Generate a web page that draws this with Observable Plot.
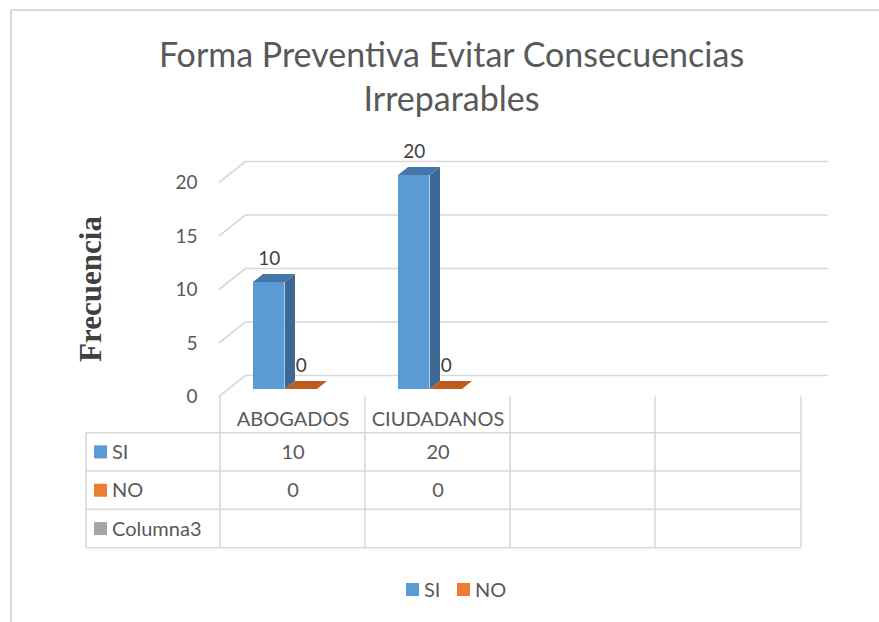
<!DOCTYPE html>
<html><head><meta charset="utf-8">
<script src="https://cdn.jsdelivr.net/npm/d3@7"></script>
<script src="https://cdn.jsdelivr.net/npm/@observablehq/plot@0.6"></script>
<style>
 body{margin:0;background:#fff;}
 #wrap{position:relative;width:879px;height:622px;overflow:hidden;}
</style></head><body>
<div id="wrap"></div>
<script>
// ---- data ----
const titleLines = ["Forma Preventiva Evitar Consecuencias", "Irreparables"];
const yLabel = "Frecuencia";
const categories = ["ABOGADOS", "CIUDADANOS"];
const emptyColumns = ["col3", "col4"];
const seriesNames = ["SI", "NO", "Columna3"];
const siValues = [10, 20];
const noValues = [0, 0];
const columna3Values = [null, null];
const yTicks = [0, 5, 10, 15, 20];
const legendSeries = ["SI", "NO"];
const colors = {SI: "#5B9BD5", NO: "#ED7D31", Columna3: "#A5A5A5"};
const shade = {SIside: "#3C6893", SItop: "#4476AC", NOtop: "#BD5C1D"};

const siData = categories.map((c, i) => ({cat: c, value: siValues[i]}));
const noData = categories.map((c, i) => ({cat: c, value: noValues[i]}));
const tableRows = [
  {name: "SI", values: siValues},
  {name: "NO", values: noValues},
  {name: "Columna3", values: columna3Values}
];

// ---- layout ----
const W = 879, H = 622;
const mL = 219, mR = 78, mT = 182.5, mB = 225.5;
const bw = (W - mL - mR) / 4;
const backDx = 27, backDy = -21.5;   // back wall offset
const barDy = -7.5;                  // bar plane offset
const depthX = 10, depthY = -8;      // bar depth
const siIn = [33, 65], noIn = [65, 97];
const rowH = 38.35, headerH = 36.2;
const font = "Lato, 'Open Sans', sans-serif";

const plot = Plot.plot({
  width: W, height: H,
  marginLeft: mL, marginRight: mR, marginTop: mT, marginBottom: mB,
  style: {fontFamily: font, fontSize: "19px", color: "#595959", background: "transparent", overflow: "visible"},
  x: {domain: [...categories, ...emptyColumns], padding: 0, axis: null},
  y: {domain: [0, 20], nice: false, ticks: yTicks, tickSize: 0, tickPadding: 22, label: null},
  marks: [
    Plot.ruleY(yTicks, {dx: backDx, dy: backDy, stroke: "#D9D9D9", strokeWidth: 1.6}),
    Plot.barY(siData, {x: "cat", y: "value", fill: colors.SI, insetLeft: siIn[0], insetRight: bw - siIn[1], dy: barDy}),
    Plot.text(siData, {x: "cat", y: "value", text: d => String(d.value), dy: barDy - 24, dx: (siIn[0] + siIn[1]) / 2 - bw / 2, fill: "#404040", fontSize: 19}),
    Plot.text(noData, {x: "cat", y: "value", text: d => String(d.value), dy: barDy - 24, dx: (noIn[0] + noIn[1]) / 2 - bw / 2, fill: "#404040", fontSize: 19}),
    Plot.text(categories, {x: d => d, y: () => 0, dy: 23, fill: "#595959", fontSize: 20}),
    Plot.text(siData, {x: "cat", y: () => 0, text: d => String(d.value), dy: headerH + rowH * 0.5, fill: "#595959", fontSize: 20}),
    Plot.text(noData, {x: "cat", y: () => 0, text: d => String(d.value), dy: headerH + rowH * 1.5, fill: "#595959", fontSize: 20})
  ]
});

const sx = plot.scale("x"), sy = plot.scale("y");
const svg = d3.select(plot);
const y0 = sy.apply(0);
const xStart = c => sx.apply(c);
const lineC = "#D9D9D9";

// back decorations (diagonal axis lines) below marks
const back = svg.insert("g", "g");
for (const v of yTicks) {
  back.append("line").attr("x1", mL).attr("y1", sy.apply(v)).attr("x2", mL + backDx).attr("y2", sy.apply(v) + backDy)
    .attr("stroke", lineC).attr("stroke-width", 1.6);
}

// 3D faces
const faces = svg.append("g");
const poly = pts => pts.map(p => p.join(",")).join(" ");
siData.forEach(d => {
  const x0 = xStart(d.cat) + siIn[0], x1 = xStart(d.cat) + siIn[1];
  const yT = sy.apply(d.value) + barDy, yB = y0 + barDy;
  faces.append("polygon").attr("points", poly([[x1, yT], [x1 + depthX, yT + depthY], [x1 + depthX, yB + depthY], [x1, yB]])).attr("fill", shade.SIside);
  faces.append("polygon").attr("points", poly([[x0, yT], [x1, yT], [x1 + depthX, yT + depthY], [x0 + depthX, yT + depthY]])).attr("fill", shade.SItop);
});
noData.forEach(d => {
  const x0 = xStart(d.cat) + noIn[0], x1 = xStart(d.cat) + noIn[1];
  const yT = sy.apply(d.value) + barDy;
  faces.append("polygon").attr("points", poly([[x0, yT], [x1, yT], [x1 + depthX, yT + depthY], [x0 + depthX, yT + depthY]])).attr("fill", shade.NOtop);
});

// data table
const tbl = svg.append("g").attr("stroke", lineC).attr("stroke-width", 1.6);
const tableLeft = 86, tableRight = mL + 4 * bw;
const rowYs = [0, 1, 2, 3].map(i => y0 + headerH + rowH * i);
rowYs.forEach(y => tbl.append("line").attr("x1", tableLeft).attr("x2", tableRight).attr("y1", y).attr("y2", y));
tbl.append("line").attr("x1", tableLeft).attr("x2", tableLeft).attr("y1", rowYs[0]).attr("y2", rowYs[3]);
[...categories, ...emptyColumns].forEach(c => tbl.append("line").attr("x1", xStart(c)).attr("x2", xStart(c)).attr("y1", y0).attr("y2", rowYs[3]));
tbl.append("line").attr("x1", tableRight).attr("x2", tableRight).attr("y1", y0).attr("y2", rowYs[3]);

const labs = svg.append("g").attr("font-family", font).attr("font-size", 20).attr("fill", "#595959").attr("text-anchor", "start");
tableRows.forEach((r, i) => {
  const cy = rowYs[i] + rowH / 2;
  labs.append("rect").attr("x", 94).attr("y", cy - 6.5).attr("width", 13).attr("height", 13).attr("fill", colors[r.name]);
  labs.append("text").attr("x", 112).attr("y", cy).attr("dy", "0.35em").text(r.name);
});

// legend
const leg = svg.append("g").attr("font-family", font).attr("font-size", 20).attr("fill", "#595959").attr("text-anchor", "start");
const legX = [406, 457];
legendSeries.forEach((s, i) => {
  leg.append("rect").attr("x", legX[i]).attr("y", 583).attr("width", 13).attr("height", 13).attr("fill", colors[s]);
  leg.append("text").attr("x", legX[i] + 18).attr("y", 589.5).attr("dy", "0.35em").text(s);
});

// title
const tt = svg.append("g").attr("font-family", font).attr("font-size", 34).attr("fill", "#595959").attr("text-anchor", "middle");
titleLines.forEach((t, i) => tt.append("text").attr("x", 451.5).attr("y", 67 + 44 * i).text(t));

// y axis title
svg.append("text").attr("transform", "translate(101,289) rotate(-90)").attr("text-anchor", "middle")
  .attr("font-family", "'Liberation Serif', 'Times New Roman', serif").attr("font-weight", "bold").attr("font-size", 31)
  .attr("fill", "#404040").text(yLabel);

// chart border
const bd = svg.append("g").attr("stroke", "#D9D9D9").attr("stroke-width", 2);
bd.append("line").attr("x1", 11).attr("x2", W).attr("y1", 10).attr("y2", 10);
bd.append("line").attr("x1", 11).attr("x2", 11).attr("y1", 10).attr("y2", H);

document.getElementById("wrap").appendChild(plot);
</script>
</body></html>
